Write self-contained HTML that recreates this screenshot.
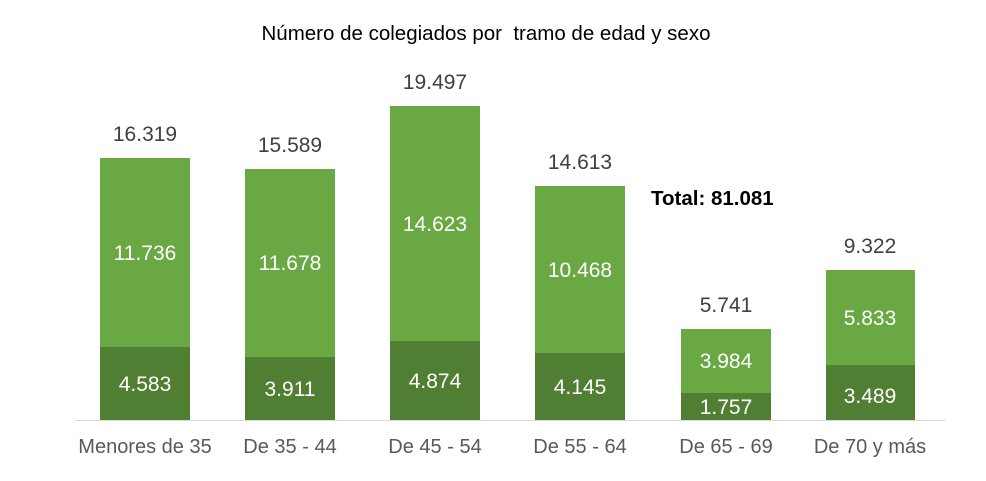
<!DOCTYPE html><html><head><style>body{margin:0;background:#fff}svg text{font-family:"Liberation Sans",sans-serif}</style></head><body>
<svg width="986" height="476" xmlns="http://www.w3.org/2000/svg">
<rect width="986" height="476" fill="#fff"/>
<text x="486" y="40" font-size="20.5" text-anchor="middle" fill="#000">Número de colegiados por&#160; tramo de edad y sexo</text>
<line x1="75" y1="420.5" x2="945" y2="420.5" stroke="#d9d9d9" stroke-width="1"/>
<g font-size="21" text-anchor="middle">
<rect x="100" y="158" width="90" height="189" fill="#6aa843"/><rect x="100" y="347" width="90" height="73" fill="#507e32"/>
<text x="145" y="141" fill="#404040">16.319</text><text x="145" y="260" fill="#fff">11.736</text><text x="145" y="391" fill="#fff">4.583</text>
<rect x="245" y="169" width="90" height="188" fill="#6aa843"/><rect x="245" y="357" width="90" height="63" fill="#507e32"/>
<text x="290" y="152" fill="#404040">15.589</text><text x="290" y="270" fill="#fff">11.678</text><text x="290" y="396" fill="#fff">3.911</text>
<rect x="390" y="106" width="90" height="235" fill="#6aa843"/><rect x="390" y="341" width="90" height="79" fill="#507e32"/>
<text x="435" y="89" fill="#404040">19.497</text><text x="435" y="231" fill="#fff">14.623</text><text x="435" y="388" fill="#fff">4.874</text>
<rect x="535" y="186" width="90" height="167" fill="#6aa843"/><rect x="535" y="353" width="90" height="67" fill="#507e32"/>
<text x="580" y="169" fill="#404040">14.613</text><text x="580" y="277" fill="#fff">10.468</text><text x="580" y="394" fill="#fff">4.145</text>
<rect x="681" y="329" width="90" height="64" fill="#6aa843"/><rect x="681" y="393" width="90" height="27" fill="#507e32"/>
<text x="726" y="312" fill="#404040">5.741</text><text x="726" y="368" fill="#fff">3.984</text><text x="726" y="414" fill="#fff">1.757</text>
<rect x="826" y="270" width="89" height="95" fill="#6aa843"/><rect x="826" y="365" width="89" height="55" fill="#507e32"/>
<text x="870" y="253" fill="#404040">9.322</text><text x="870" y="325" fill="#fff">5.833</text><text x="870" y="403" fill="#fff">3.489</text>
<g font-size="20" fill="#595959">
<text x="145" y="453">Menores de 35</text><text x="290" y="453">De 35 - 44</text><text x="435" y="453">De 45 - 54</text><text x="580" y="453">De 55 - 64</text><text x="726" y="453">De 65 - 69</text><text x="870" y="453">De 70 y más</text>
</g></g>
<text x="651" y="205" font-size="20.5" font-weight="bold" fill="#000">Total: 81.081</text>
</svg></body></html>
